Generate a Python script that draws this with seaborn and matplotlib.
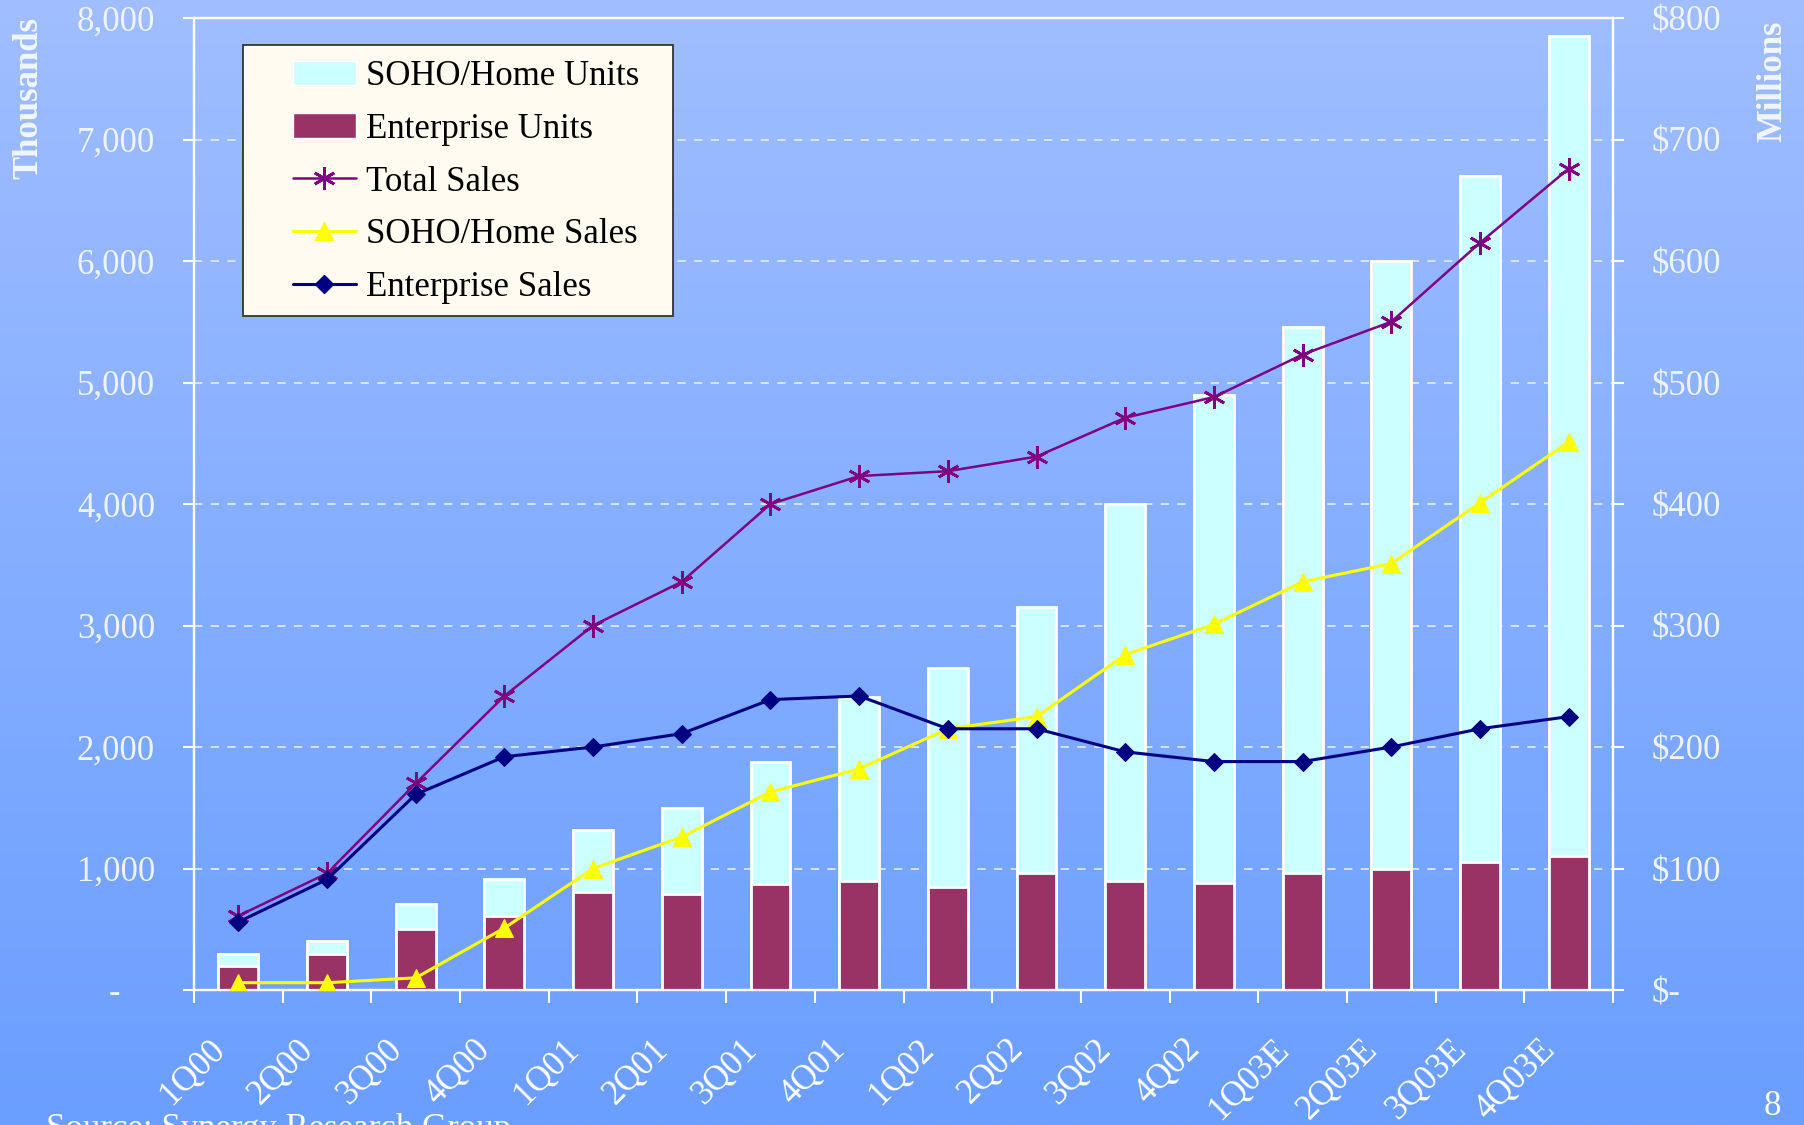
import numpy as np
import pandas as pd
import matplotlib
matplotlib.use("Agg")
import matplotlib.pyplot as plt
import seaborn as sns
from matplotlib.patches import Rectangle, Patch
from matplotlib.lines import Line2D
from matplotlib.transforms import ScaledTranslation

# ---------------- data ----------------
quarters = ["1Q00", "2Q00", "3Q00", "4Q00", "1Q01", "2Q01", "3Q01", "4Q01",
            "1Q02", "2Q02", "3Q02", "4Q02", "1Q03E", "2Q03E", "3Q03E", "4Q03E"]
enterprise_units = [200, 300, 500, 610, 810, 790, 870, 900, 850, 960, 900, 880, 960, 1000, 1050, 1100]
soho_units = [100, 100, 210, 300, 510, 710, 1005, 1510, 1800, 2190, 3100, 4020, 4500, 5000, 5650, 6750]
total_sales = [61, 96, 170, 242, 300, 336, 400, 423, 427, 439, 471, 488, 523, 550, 615, 676]
soho_sales = [6, 6, 10, 51, 100, 126, 163, 182, 215, 225, 276, 301, 336, 351, 401, 451]
enterprise_sales = [56, 91, 161, 192, 200, 211, 239, 242, 215, 215, 196, 188, 188, 200, 215, 225]
left_ticks = [0, 1000, 2000, 3000, 4000, 5000, 6000, 7000, 8000]
left_labels = ["-    ", "1,000", "2,000", "3,000", "4,000", "5,000", "6,000", "7,000", "8,000"]
right_ticks = [0, 100, 200, 300, 400, 500, 600, 700, 800]
right_labels = ["$-", "$100", "$200", "$300", "$400", "$500", "$600", "$700", "$800"]

df = pd.DataFrame({
    "quarter": quarters,
    "units_stack": np.add(soho_units, enterprise_units),
    "enterprise_units": enterprise_units,
})

# ---------------- style ----------------
sns.set_theme(style="white")
SERIF = ["Liberation Serif", "DejaVu Serif"]
plt.rcParams["font.family"] = SERIF
FS = 25

W, H = 1804, 1125
fig = plt.figure(figsize=(W / 100, H / 100), dpi=100)

# gradient background
bg = fig.add_axes([0, 0, 1, 1], zorder=-10)
top = np.array([160, 190, 255]) / 255
bot = np.array([106, 158, 255]) / 255
t = np.linspace(0, 1, 256)[:, None]
grad = (top[None, :] * (1 - t) + bot[None, :] * t)[:, None, :]
bg.imshow(grad, aspect="auto", extent=[0, 1, 0, 1], interpolation="bilinear")
bg.axis("off")

left, right, bottom, topp = 194 / W, 1613 / W, 1 - 990 / H, 1 - 18 / H
ax = fig.add_axes([left, bottom, right - left, topp - bottom])
ax.patch.set_alpha(0)

SOHO_C = "#CCFFFF"
ENT_C = "#993366"

sns.barplot(data=df, x="quarter", y="units_stack", color=SOHO_C, saturation=1,
            width=0.45, edgecolor="white", linewidth=2, errorbar=None, ax=ax, zorder=2)
sns.barplot(data=df, x="quarter", y="enterprise_units", color=ENT_C, saturation=1,
            width=0.45, edgecolor="white", linewidth=2, errorbar=None, ax=ax, zorder=3)

ax.set_xlim(-0.5, len(quarters) - 0.5)
ax.set_ylim(0, 8000)
ax.set_xlabel("")
ax.set_ylabel("")

for s in ax.spines.values():
    s.set_color("white")
    s.set_linewidth(1.6)
    s.set_visible(True)

ax.set_yticks(left_ticks)
ax.set_yticklabels(left_labels)
ax.tick_params(axis="y", which="major", direction="out", length=8, width=1.5,
               color="white", labelsize=FS, labelcolor="#EEF3FF", pad=20, left=True)
ax.grid(axis="y", color="#E4ECFF", linestyle=(0, (5, 5)), linewidth=1.2)
ax.grid(axis="x", visible=False)
ax.set_axisbelow(True)

ax.set_xticks(np.arange(len(quarters) + 1) - 0.5)
ax.set_xticklabels([""] * (len(quarters) + 1))
ax.set_xticks(np.arange(len(quarters)), minor=True)
ax.set_xticklabels(quarters, minor=True)
ax.tick_params(axis="x", which="major", direction="out", length=9, width=1.5,
               color="white", bottom=True)
ax.tick_params(axis="x", which="minor", length=0, labelsize=FS, labelcolor="white",
               pad=39, bottom=True)
shift = ScaledTranslation(-19 / 100, 0, fig.dpi_scale_trans)
for lbl in ax.get_xticklabels(minor=True):
    lbl.set_rotation(45)
    lbl.set_ha("right")
    lbl.set_va("center")
    lbl.set_rotation_mode("anchor")
    lbl.set_transform(lbl.get_transform() + shift)

# secondary axis: sales lines
ax2 = ax.twinx()
ax2.patch.set_alpha(0)
pos = np.arange(len(quarters))
sns.lineplot(x=pos, y=total_sales, ax=ax2, color="#800080", linewidth=1.8,
             marker=(6, 2, 0), markersize=16, markeredgecolor="#800080",
             markeredgewidth=2, zorder=3)
sns.lineplot(x=pos, y=soho_sales, ax=ax2, color="#FFFF00", linewidth=2.2,
             marker="^", markersize=13, markeredgecolor="#FFFF00",
             markerfacecolor="#FFFF00", zorder=3)
sns.lineplot(x=pos, y=enterprise_sales, ax=ax2, color="#000080", linewidth=2.2,
             marker="D", markersize=9, markeredgecolor="#000080",
             markerfacecolor="#000080", zorder=4)
ax2.set_ylim(0, 800)
ax2.set_xlim(-0.5, len(quarters) - 0.5)
ax2.set_yticks(right_ticks)
ax2.set_yticklabels(right_labels)
ax2.tick_params(axis="y", direction="out", length=8, width=1.5, color="white",
                labelsize=FS, labelcolor="#EEF3FF", pad=20, right=True)
ax2.grid(False)
for s in ax2.spines.values():
    s.set_color("white")
    s.set_linewidth(1.6)

# axis titles
fig.text(29 / W, 1 - 17 / H, "Thousands", rotation=90, ha="center", va="top",
         fontsize=FS, fontweight="bold", color="#F2F6FF")
fig.text(1773 / W, 1 - 20 / H, "Millions", rotation=90, ha="center", va="top",
         fontsize=FS, fontweight="bold", color="#F2F6FF")

# legend
rect = Rectangle((243 / W, 1 - 316 / H), 430 / W, 271 / H, transform=fig.transFigure,
                 facecolor="#FFFBF0", edgecolor="#333333", linewidth=1.3, zorder=4.9)
ax2.add_artist(rect)
handles = [
    Patch(facecolor=SOHO_C, edgecolor="white", linewidth=1),
    Patch(facecolor=ENT_C, edgecolor="white", linewidth=1),
    Line2D([], [], color="#800080", linewidth=1.8, marker=(6, 2, 0), markersize=16,
           markeredgewidth=2, markeredgecolor="#800080"),
    Line2D([], [], color="#FFFF00", linewidth=2.2, marker="^", markersize=13,
           markeredgecolor="#FFFF00", markerfacecolor="#FFFF00"),
    Line2D([], [], color="#000080", linewidth=2.2, marker="D", markersize=9,
           markeredgecolor="#000080", markerfacecolor="#000080"),
]
labels = ["SOHO/Home Units", "Enterprise Units", "Total Sales", "SOHO/Home Sales",
          "Enterprise Sales"]
leg = ax2.legend(handles, labels, loc="upper left",
                 bbox_to_anchor=(293 / W, 1 - 60 / H), bbox_transform=fig.transFigure,
                 frameon=False, borderpad=0, borderaxespad=0, handlelength=1.8,
                 handletextpad=0.3, labelspacing=0.57, fontsize=FS)
leg.set_zorder(5)
for txt in leg.get_texts():
    txt.set_color("black")

# footer texts
fig.text(46 / W, 1 - 1113 / H, "Source: Synergy Research Group", ha="left", va="top",
         fontsize=FS, color="white")
fig.text(1764 / W, 1 - 1090 / H, "8", ha="left", va="top", fontsize=FS, color="white")

fig.savefig("out.png", dpi=100)
